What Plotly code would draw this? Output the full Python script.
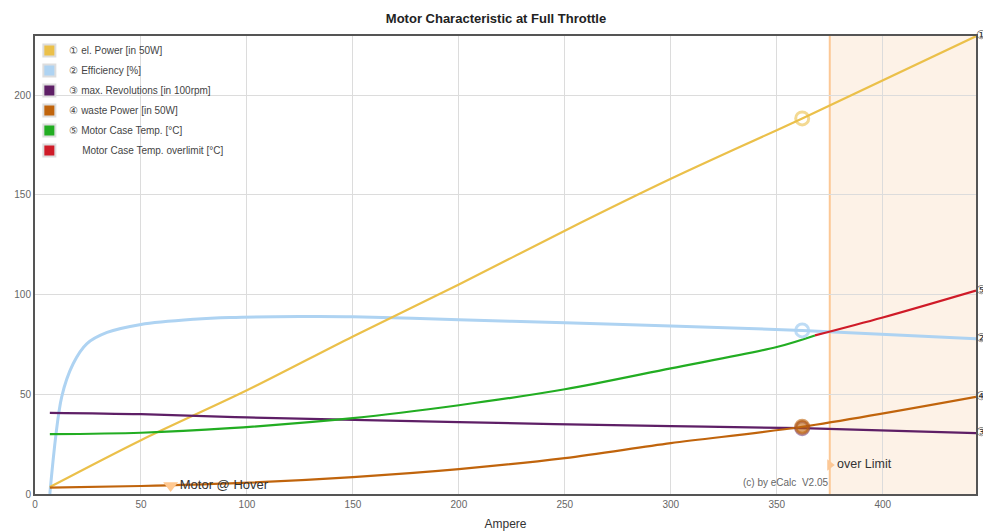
import plotly.graph_objects as go

# ---------------- data ----------------
title_text = "Motor Characteristic at Full Throttle"
x_title = "Ampere"

power_amps = [7, 50, 100, 150, 200, 250, 300, 362, 444]
power_vals = [3.5, 27, 52, 79, 105, 132, 158, 188.3, 229.5]

eff_amps = [7, 12.6, 18, 24.4, 34, 50, 75, 92, 125, 150, 200, 250, 300, 362, 444]
eff_vals = [0, 48.7, 65.3, 75.3, 81, 85, 87.6, 88.5, 89, 88.9, 87.4, 85.8, 84.2, 82, 77.8]

rev_amps = [7, 50, 100, 200, 300, 362, 444]
rev_vals = [40.7, 40, 38.4, 36, 34, 33, 30.5]

waste_amps = [7, 50, 92, 150, 200, 250, 300, 362, 444]
waste_vals = [3.2, 4, 5.3, 8.5, 12.5, 18, 25.5, 33.7, 48.7]

temp_amps = [7, 50, 92, 150, 200, 250, 300, 350, 368]
temp_vals = [30, 30.7, 33, 38, 44.5, 52.5, 63, 73.7, 79.5]

temp_over_amps = [368, 400, 444]
temp_over_vals = [79.5, 88.5, 102]

series_names = [
    "\u2460 el. Power [in 50W]",
    "\u2461 Efficiency [%]",
    "\u2462 max. Revolutions [in 100rpm]",
    "\u2463 waste Power [in 50W]",
    "\u2464 Motor Case Temp. [\u00b0C]",
    "\u2003 Motor Case Temp. overlimit [\u00b0C]",
]
end_labels = ["\u2460", "\u2461", "\u2462", "\u2463", "\u2464"]

op_amp = 362                      # operating point at full throttle
op_vals = [188.3, 82, 33, 33.7]   # power, efficiency, revolutions, waste

hover_amp = 64
hover_val = 4.3
hover_label = "Motor @ Hover"

limit_amp = 375
limit_marker_val = 14.5
limit_label = "over Limit"
copyright_text = "(c) by eCalc  V2.05"

x_max = 444
y_max = 229.6
x_ticks = [0, 50, 100, 150, 200, 250, 300, 350, 400]
y_ticks = [0, 50, 100, 150, 200]

# ---------------- styles ----------------
c_power = "#ebc04a"
c_eff = "#aed3f2"
c_rev = "#5e1f66"
c_waste = "#c0640c"
c_temp = "#22ad22"
c_over = "#cf1b28"
c_limit = "#fcc896"
legend_colors = [c_power, c_eff, c_rev, c_waste, c_temp, c_over]
FONT = "Liberation Sans, Arial"

# page body has an 8px margin; compensate so the chart sits like the reference
PAGE_OFF = 8
W, H = 991, 531 - PAGE_OFF

fig = go.Figure()

# limit region
fig.add_shape(type="rect", xref="x", yref="y domain", x0=limit_amp, x1=x_max,
              y0=0, y1=1, fillcolor="#fdf2e7", line_width=0, layer="below")
fig.add_shape(type="line", xref="x", yref="y domain", x0=limit_amp, x1=limit_amp,
              y0=0, y1=1, line=dict(color=c_limit, width=2), layer="below")

def line(x, y, color, w=2.2):
    fig.add_trace(go.Scatter(x=x, y=y, mode="lines", showlegend=False,
                             line=dict(color=color, width=w, shape="spline", smoothing=0.9),
                             hoverinfo="skip"))

line(eff_amps, eff_vals, c_eff, 3)
line(power_amps, power_vals, c_power)
line(rev_amps, rev_vals, c_rev)
line(waste_amps, waste_vals, c_waste)
line(temp_amps, temp_vals, c_temp)
line(temp_over_amps, temp_over_vals, c_over)

# operating point markers
op_colors = ["rgba(235,192,74,0.6)", "rgba(174,211,242,0.8)",
             "rgba(94,31,102,0.5)", "rgba(192,100,12,0.6)"]
for i, (v, c) in enumerate(zip(op_vals, op_colors)):
    fig.add_trace(go.Scatter(x=[op_amp], y=[v], mode="markers", showlegend=False,
                             marker=dict(symbol="circle-open" if i < 3 else "circle",
                                         size=13, color=c, line=dict(color=c, width=3)),
                             hoverinfo="skip"))

# hover marker
fig.add_trace(go.Scatter(x=[hover_amp], y=[hover_val], mode="markers+text",
                         text=[hover_label], textposition="middle right",
                         textfont=dict(size=13, color="#333", family=FONT),
                         showlegend=False,
                         marker=dict(symbol="triangle-down", size=13, color="#ffc890"),
                         hoverinfo="skip"))
# over limit marker
fig.add_trace(go.Scatter(x=[limit_amp], y=[limit_marker_val], mode="markers+text",
                         text=[limit_label], textposition="middle right",
                         textfont=dict(size=12.5, color="#333", family=FONT),
                         showlegend=False,
                         marker=dict(symbol="triangle-right", size=10, color=c_limit),
                         hoverinfo="skip"))

# legend entries
for i, (name, col) in enumerate(zip(series_names, legend_colors)):
    fig.add_trace(go.Scatter(x=[None], y=[None], mode="markers", name=name,
                             legendgroup="g%d" % i,
                             marker=dict(symbol="square", size=13, color=col,
                                         line=dict(color="#dddddd", width=1))))

# copyright
fig.add_annotation(x=limit_amp, y=6, xref="x", yref="y", text=copyright_text,
                   showarrow=False, xanchor="right", yanchor="middle",
                   font=dict(size=10, color="#666", family=FONT))

# end labels on right (text trace at the last data point of each series)
end_vals = [power_vals[-1], eff_vals[-1], rev_vals[-1], waste_vals[-1], temp_over_vals[-1]]
fig.add_trace(go.Scatter(x=[x_max] * len(end_vals), y=end_vals, mode="text",
                         text=end_labels, textposition="middle right",
                         textfont=dict(size=12, color="#333", family=FONT),
                         cliponaxis=False, showlegend=False, hoverinfo="skip"))

axis_common = dict(showline=True, mirror=True, linecolor="#555", linewidth=2,
                   showgrid=True, gridcolor="#dcdcdc", gridwidth=1, zeroline=False,
                   ticks="", tickfont=dict(size=10, color="#666", family=FONT))

fig.update_layout(
    width=W, height=H, autosize=False,
    margin=dict(l=35 - PAGE_OFF, r=15 + PAGE_OFF, t=36 - PAGE_OFF, b=37, autoexpand=False),
    paper_bgcolor="white", plot_bgcolor="white",
    title=dict(text="<b>" + title_text + "</b>", x=(496 - PAGE_OFF) / W, xanchor="center",
               y=1 - (18 - PAGE_OFF) / H, yanchor="middle", yref="container",
               font=dict(size=13, color="#222", family=FONT)),
    xaxis=dict(range=[0, x_max], tickvals=x_ticks,
               title=dict(text=x_title, standoff=15,
                          font=dict(size=12, color="#333", family=FONT)),
               **axis_common),
    yaxis=dict(range=[0, y_max], tickvals=y_ticks, **axis_common),
    legend=dict(x=-0.006, y=1, xanchor="left", yanchor="top", bgcolor="rgba(0,0,0,0)",
                font=dict(size=10, color="#444", family=FONT),
                tracegroupgap=1, itemsizing="constant"),
    showlegend=True,
)

fig.write_html("out.html")
